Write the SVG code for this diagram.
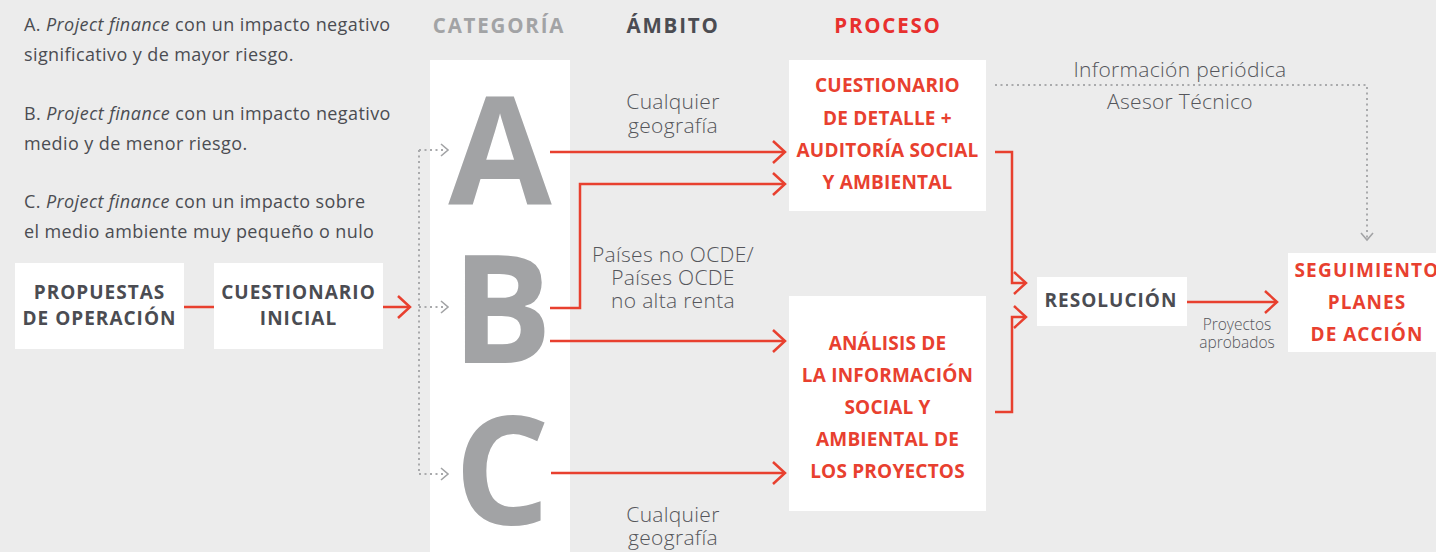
<svg xmlns="http://www.w3.org/2000/svg" width="1436" height="552" viewBox="0 0 1436 552">
<style>
.t{font-family:"Open Sans","Noto Sans","Liberation Sans",sans-serif}
.p{font-size:18px;fill:#4b4c52;letter-spacing:0.4px}
.it{font-style:italic}
.hd{font-size:20.5px;font-weight:700;letter-spacing:1.8px}
.bx{fill:#fff}
.nb{font-size:19px;font-weight:700;fill:#4b4c52;text-anchor:middle;letter-spacing:1px}
.nr{font-size:19px;font-weight:700;fill:#e8402f;text-anchor:middle;letter-spacing:0.2px}
.big{font-size:150px;font-weight:700;fill:#a2a3a5;text-anchor:middle}
.lb{font-size:21px;font-weight:300;fill:#55565b;text-anchor:middle;letter-spacing:0.3px}
.sm{font-size:15.5px;font-weight:300;fill:#55565b;text-anchor:middle}
.red{fill:none;stroke:#e8402f;stroke-width:2.5}
.dot{fill:none;stroke:#a9aaac;stroke-width:2;stroke-dasharray:2 3.5}
.gch{fill:none;stroke:#a2a3a5;stroke-width:1.6}
</style>
<defs>
<marker id="ar" markerUnits="userSpaceOnUse" markerWidth="16" markerHeight="26" viewBox="0 0 16 26" refX="14" refY="13" orient="auto">
<path d="M2,2 L14,13 L2,24" fill="none" stroke="#e8402f" stroke-width="2.5"/>
</marker>
</defs>
<rect width="1436" height="552" fill="#ececec"/>

<g id="legend" class="t p">
<text x="24" y="31">A. <tspan class="it">Project finance</tspan> con un impacto negativo</text>
<text x="24" y="61">significativo y de mayor riesgo.</text>
<text x="24" y="120">B. <tspan class="it">Project finance</tspan> con un impacto negativo</text>
<text x="24" y="150">medio y de menor riesgo.</text>
<text x="24" y="208">C. <tspan class="it">Project finance</tspan> con un impacto sobre</text>
<text x="24" y="238">el medio ambiente muy pequeño o nulo</text>
</g>

<g id="headers" class="t hd">
<text x="499" y="33" text-anchor="middle" fill="#a2a3a5">CATEGORÍA</text>
<text x="673" y="33" text-anchor="middle" fill="#4b4c52">ÁMBITO</text>
<text x="888" y="33" text-anchor="middle" fill="#e8302e">PROCESO</text>
</g>

<g id="categories">
<rect class="bx" x="430" y="60" width="140" height="492"/>
<text class="t big" x="500" y="205">A</text>
<text class="t big" x="502" y="363">B</text>
<text class="t big" x="502" y="525">C</text>
</g>

<g id="connectors">
<line class="red" x1="184" y1="307" x2="214" y2="307"/>
<line class="red" x1="383" y1="307" x2="410" y2="307" marker-end="url(#ar)"/>
<path class="dot" d="M419,150 V474"/>
<path class="dot" d="M419,150 H444 M419,307 H444 M419,474 H444"/>
<path class="gch" d="M441,144 L448,150 L441,156 M441,301 L448,307 L441,313 M441,468 L448,474 L441,480"/>
<line class="red" x1="550" y1="152" x2="785" y2="152" marker-end="url(#ar)"/>
<path class="red" d="M550,308 H580 V184 H785" marker-end="url(#ar)"/>
<line class="red" x1="550" y1="341" x2="785" y2="341" marker-end="url(#ar)"/>
<line class="red" x1="551" y1="473" x2="785" y2="473" marker-end="url(#ar)"/>
<path class="red" d="M995,152 H1012 V283 H1026" marker-end="url(#ar)"/>
<path class="red" d="M995,412 H1012 V317 H1026" marker-end="url(#ar)"/>
<line class="red" x1="1187" y1="302" x2="1277" y2="302" marker-end="url(#ar)"/>
<path class="dot" d="M995,85 H1367 V238"/>
<path class="gch" d="M1361,233 L1367,240 L1373,233"/>
</g>

<g id="labels" class="t">
<text class="lb" x="673" y="109">Cualquier</text>
<text class="lb" x="673" y="133">geografía</text>
<text class="lb" x="673" y="262">Países no OCDE/</text>
<text class="lb" x="673" y="285">Países OCDE</text>
<text class="lb" x="673" y="308">no alta renta</text>
<text class="lb" x="673" y="522">Cualquier</text>
<text class="lb" x="673" y="545">geografía</text>
<text class="lb" x="1180" y="77">Información periódica</text>
<text class="lb" x="1180" y="109">Asesor Técnico</text>
<text class="sm" x="1237" y="330">Proyectos</text>
<text class="sm" x="1237" y="348">aprobados</text>
</g>

<g id="propuestas">
<rect class="bx" x="15" y="263" width="169" height="86"/>
<text class="t nb" x="99.5" y="299">PROPUESTAS</text>
<text class="t nb" x="99.5" y="325">DE OPERACIÓN</text>
</g>

<g id="cuestionario-inicial">
<rect class="bx" x="214" y="263" width="169" height="86"/>
<text class="t nb" x="298.5" y="299">CUESTIONARIO</text>
<text class="t nb" x="298.5" y="325">INICIAL</text>
</g>

<g id="cuestionario-detalle">
<rect class="bx" x="789" y="60" width="197" height="151"/>
<text class="t nr" x="887.5" y="92">CUESTIONARIO</text>
<text class="t nr" x="887.5" y="124.5">DE DETALLE +</text>
<text class="t nr" x="887.5" y="157">AUDITORÍA SOCIAL</text>
<text class="t nr" x="887.5" y="188.5">Y AMBIENTAL</text>
</g>

<g id="analisis">
<rect class="bx" x="789" y="296" width="197" height="215"/>
<text class="t nr" x="887.5" y="350">ANÁLISIS DE</text>
<text class="t nr" x="887.5" y="382">LA INFORMACIÓN</text>
<text class="t nr" x="887.5" y="414">SOCIAL Y</text>
<text class="t nr" x="887.5" y="446">AMBIENTAL DE</text>
<text class="t nr" x="887.5" y="478">LOS PROYECTOS</text>
</g>

<g id="resolucion">
<rect class="bx" x="1037" y="277" width="150" height="49"/>
<text class="t nb" x="1111" y="307">RESOLUCIÓN</text>
</g>

<g id="seguimiento">
<rect class="bx" x="1288" y="253" width="148" height="99"/>
<text class="t nr" x="1367" y="277" style="letter-spacing:1.2px">SEGUIMIENTO</text>
<text class="t nr" x="1367" y="309" style="letter-spacing:1px">PLANES</text>
<text class="t nr" x="1367" y="341" style="letter-spacing:1px">DE ACCIÓN</text>
</g>
</svg>
